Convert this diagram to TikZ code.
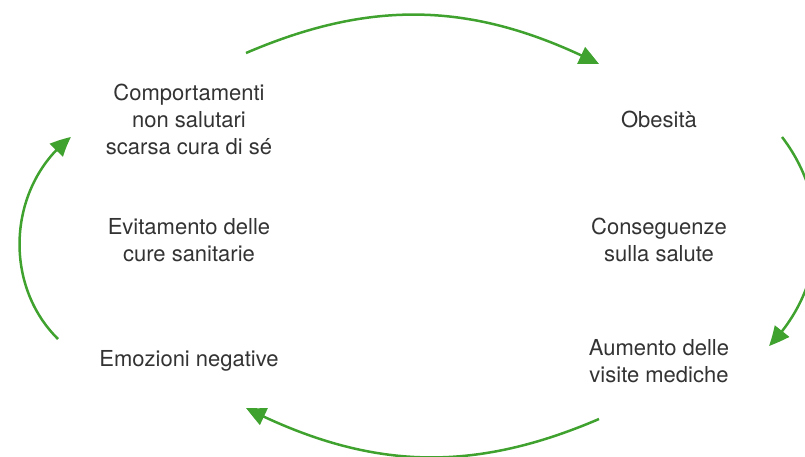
\documentclass[tikz,border=0pt]{standalone}
\usepackage{fontspec}
\setmainfont{TeX Gyre Heros}
\usetikzlibrary{arrows.meta,bending}
\definecolor{cyclegreen}{RGB}{64,162,46}

\begin{document}
\begin{tikzpicture}[x=1pt,y=-1pt,
    phase/.style={align=center, inner sep=0pt, text=black!80,
        font=\fontsize{22}{27}\selectfont},
    cyclearrow/.style={draw=cyclegreen, line width=2.5pt,
        -{Triangle[length=20pt,width=18pt,bend]}}]
    \clip (0,0) rectangle (805,456);

    \node[phase] (behav) at (189,119) {Comportamenti\\non salutari\\scarsa cura di sé};
    \node[phase] (avoid) at (189,240) {Evitamento delle\\cure sanitarie};
    \node[phase] (emot) at (189,361) {Emozioni negative};
    \node[phase] (obes) at (659,119) {Obesità};
    \node[phase] (health) at (659,240) {Conseguenze\\sulla salute};
    \node[phase] (visits) at (659,361) {Aumento delle\\visite mediche};

    \coordinate (topA) at (246,53);
    \coordinate (topB) at (599,64);
    \coordinate (rightA) at (782,137);
    \coordinate (rightB) at (769,346);
    \coordinate (bottomA) at (599,419);
    \coordinate (bottomB) at (246,408);
    \coordinate (leftA) at (58,339);
    \coordinate (leftB) at (71,137);

    \draw[cyclearrow] (topA) to[bend left=25] (topB);
    \draw[cyclearrow] (rightA) to[bend left=41] (rightB);
    \draw[cyclearrow] (bottomA) to[bend left=25] (bottomB);
    \draw[cyclearrow] (leftA) to[bend left=49] (leftB);
\end{tikzpicture}
\end{document}
